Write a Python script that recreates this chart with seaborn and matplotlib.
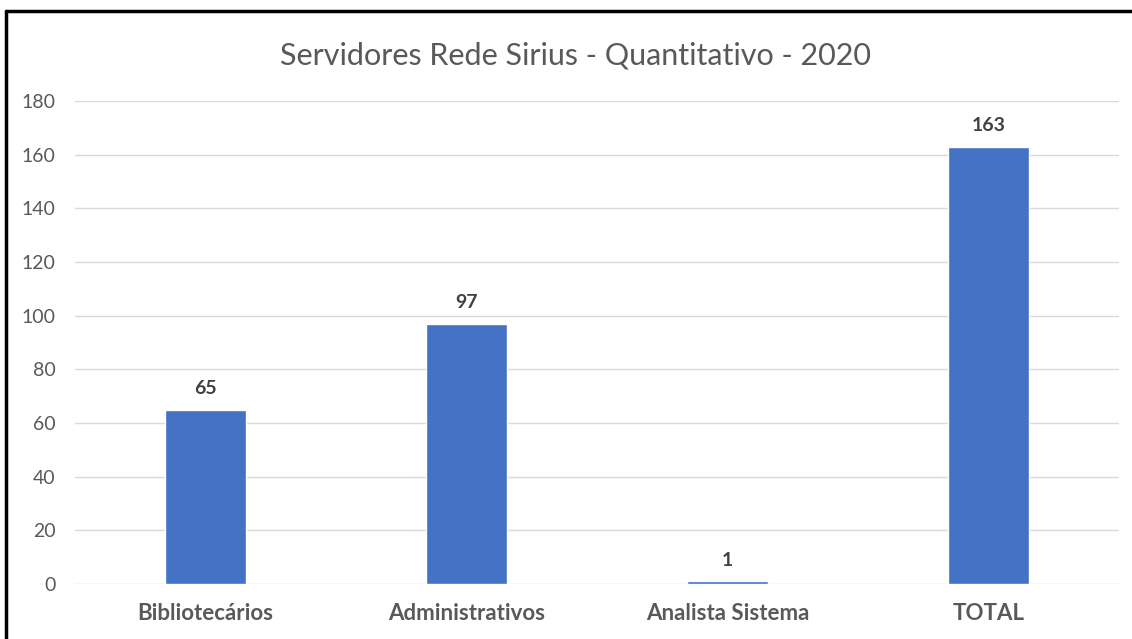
import matplotlib
matplotlib.use("Agg")
import matplotlib.pyplot as plt
from matplotlib.lines import Line2D
import pandas as pd
import seaborn as sns

# Data
categories = ["Bibliotecários", "Administrativos", "Analista Sistema", "TOTAL"]
values = [65, 97, 1, 163]
yticks = [0, 20, 40, 60, 80, 100, 120, 140, 160, 180]
title = "Servidores Rede Sirius - Quantitativo - 2020"

df = pd.DataFrame({"categoria": categories, "quantidade": values})

sns.set_style("white")
plt.rcParams["font.family"] = ["Lato", "DejaVu Sans"]

fig = plt.figure(figsize=(11.32, 6.39), dpi=100)
ax = fig.add_axes([0.0663, 0.0861, 0.9222, 0.7559])

sns.barplot(data=df, x="categoria", y="quantidade", color="#4472C4",
            width=0.31, saturation=1, ax=ax, zorder=3)

ax.set_ylim(0, 180)
ax.set_xlim(-0.5, 3.5)
ax.set_yticks(yticks)
ax.set_yticklabels([str(t) for t in yticks], fontsize=14, color="#595959")
ax.grid(axis="y", color="#d9d9d9", linewidth=1, zorder=0)
ax.set_axisbelow(True)
ax.tick_params(axis="both", length=0)
ax.tick_params(axis="y", pad=14)
ax.tick_params(axis="x", pad=14)
for lbl in ax.get_xticklabels():
    lbl.set_fontsize(16)
    lbl.set_fontweight("bold")
    lbl.set_color("#595959")
ax.set_xlabel("")
ax.set_ylabel("")
sns.despine(ax=ax, left=True, bottom=True)

for i, v in enumerate(values):
    ax.annotate(str(v), (i, v), xytext=(0, 9), textcoords="offset points",
                ha="center", va="bottom", fontsize=14, fontweight="bold",
                color="#404040")

fig.text(0.508, 0.913, title, ha="center", va="center", fontsize=22,
         color="#595959")

# frame (left and top edges visible)
fig.add_artist(Line2D([0.0055, 0.0055], [0, 0.983], transform=fig.transFigure,
                      color="black", linewidth=2.5))
fig.add_artist(Line2D([0.0055, 1.0], [0.983, 0.983], transform=fig.transFigure,
                      color="black", linewidth=2.5))

fig.savefig("out.png", dpi=100)
